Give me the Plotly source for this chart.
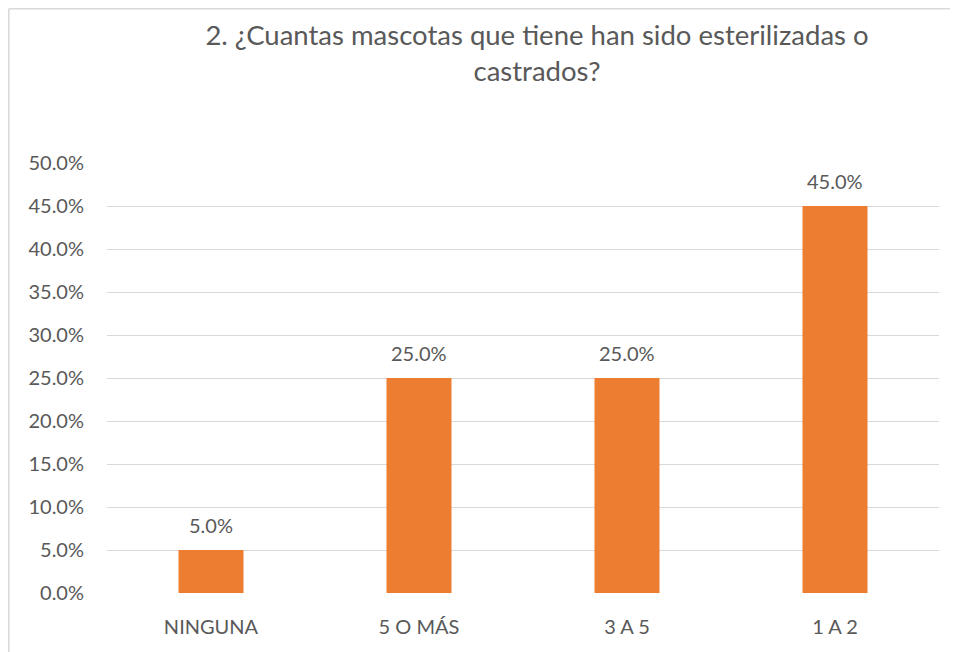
import plotly.graph_objects as go

categories = ["NINGUNA", "5 O MÁS", "3 A 5", "1 A 2"]
values = [0.05, 0.25, 0.25, 0.45]
tick_vals = [0, 0.05, 0.10, 0.15, 0.20, 0.25, 0.30, 0.35, 0.40, 0.45, 0.50]
title_text = "2. ¿Cuantas mascotas que tiene han sido esterilizadas o<br>castrados?"

FONT = "Lato, 'Open Sans', sans-serif"
TXT = "#595959"

# page adds an 8px body margin; figure sized to compensate
W, H = 950, 644
L, R, T, B = 99, 19, 155, 59
PW, PH = W - L - R, H - T - B

fig = go.Figure()
fig.add_trace(go.Bar(
    x=categories, y=values, width=0.3125,
    marker=dict(color="#ED7D31", line=dict(width=0)),
))
for c, v in zip(categories, values):
    fig.add_annotation(x=c, y=v, text=f"{v*100:.1f}%", showarrow=False,
                       yanchor="bottom", yshift=11,
                       font=dict(family=FONT, size=20, color=TXT))

fig.update_layout(
    width=W, height=H,
    margin=dict(l=L, r=R, t=T, b=B),
    paper_bgcolor="white", plot_bgcolor="white",
    showlegend=False,
    title=dict(text=title_text, x=529/W, xanchor="center", xref="container",
               y=1-37/H, yanchor="middle", yref="container",
               font=dict(family=FONT, size=27.5, color=TXT)),
    font=dict(family=FONT, color=TXT),
)
fig.update_yaxes(range=[0, 0.5], tickvals=tick_vals, tickformat=".1%",
                 showgrid=True, gridcolor="#D9D9D9", gridwidth=1.3,
                 zeroline=False, showline=False, ticks="",
                 ticklabelstandoff=22,
                 tickfont=dict(family=FONT, size=20, color=TXT))
fig.update_xaxes(showgrid=False, showline=False, ticks="",
                 ticklabelstandoff=20,
                 tickfont=dict(family=FONT, size=20, color=TXT))

bx = -(L - 0.8) / PW
by = 1 + (T - 0.8) / PH
fig.add_shape(type="line", xref="paper", yref="paper",
              x0=bx, x1=bx, y0=-0.5, y1=by,
              line=dict(color="#D9D9D9", width=1.5), layer="below")
fig.add_shape(type="line", xref="paper", yref="paper",
              x0=bx, x1=1.1, y0=by, y1=by,
              line=dict(color="#D9D9D9", width=1.5), layer="below")

fig.write_html("out.html")
